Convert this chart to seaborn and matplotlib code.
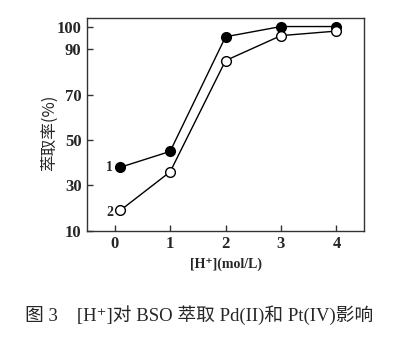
import matplotlib
matplotlib.use("Agg")
import matplotlib.pyplot as plt
import seaborn as sns
import pandas as pd

# Acid concentration [H+] (mol/L) and extraction percentage
h_conc = [0.1, 1, 2, 3, 4]
pd_extraction = [38, 45, 95.5, 100, 100]   # curve 1, Pd(II)
pt_extraction = [19, 36, 85, 96, 98]       # curve 2, Pt(IV)
y_ticks = [10, 30, 50, 70, 90, 100]
x_ticks = [0, 1, 2, 3, 4]

df = pd.DataFrame({
    "h": h_conc * 2,
    "e": pd_extraction + pt_extraction,
    "curve": ["1"] * len(h_conc) + ["2"] * len(h_conc),
})

sns.set_style("ticks")
serif_list = ["Liberation Serif", "DejaVu Serif", "DejaVu Sans", "Noto Sans CJK SC"]
plt.rcParams["font.family"] = serif_list

fig = plt.figure(figsize=(4.01, 3.38), dpi=100)
ax = fig.add_axes([0.217, 0.317, 0.691, 0.630])

sns.lineplot(data=df[df.curve == "1"], x="h", y="e", ax=ax, color="black",
             lw=1.0, marker="o", markersize=7, markerfacecolor="black",
             markeredgecolor="black", markeredgewidth=1.0)
sns.lineplot(data=df[df.curve == "2"], x="h", y="e", ax=ax, color="black",
             lw=1.0, marker="o", markersize=7, markerfacecolor="white",
             markeredgecolor="black", markeredgewidth=1.0)

ax.set_xlim(-0.5, 4.5)
ax.set_ylim(10, 103.8)
ax.set_xticks(x_ticks)
ax.set_yticks(y_ticks)
ax.set_xticklabels([str(v) for v in x_ticks], fontweight="bold", fontsize=12)
ax.set_yticklabels([str(v) for v in y_ticks], fontweight="bold", fontsize=12)
ax.tick_params(direction="in", length=4, width=1, color="#333333", pad=4)
for s in ax.spines.values():
    s.set_visible(True)
    s.set_color("#333333")
    s.set_linewidth(1.0)

ax.set_xlabel("[H⁺](mol/L)", fontweight="bold", fontsize=10, labelpad=4,
              family=serif_list)
ax.set_ylabel("萃取率(%)", fontsize=12,
              family=["Noto Sans CJK SC", "Liberation Serif"])
ax.yaxis.set_label_coords(-0.105, 0.46)

ax.text(h_conc[0] - 0.13, pd_extraction[0], "1", ha="right", va="center",
        fontweight="bold", fontsize=10)
ax.text(h_conc[0] - 0.13, pt_extraction[0] - 1, "2", ha="right", va="center",
        fontweight="bold", fontsize=10)

fig.text(0.497, 0.068, "图 3    [H⁺]对 BSO 萃取 Pd(II)和 Pt(IV)影响",
         ha="center", va="center", fontsize=13.5, family=serif_list)

fig.savefig("out.png", dpi=100, facecolor="white")
